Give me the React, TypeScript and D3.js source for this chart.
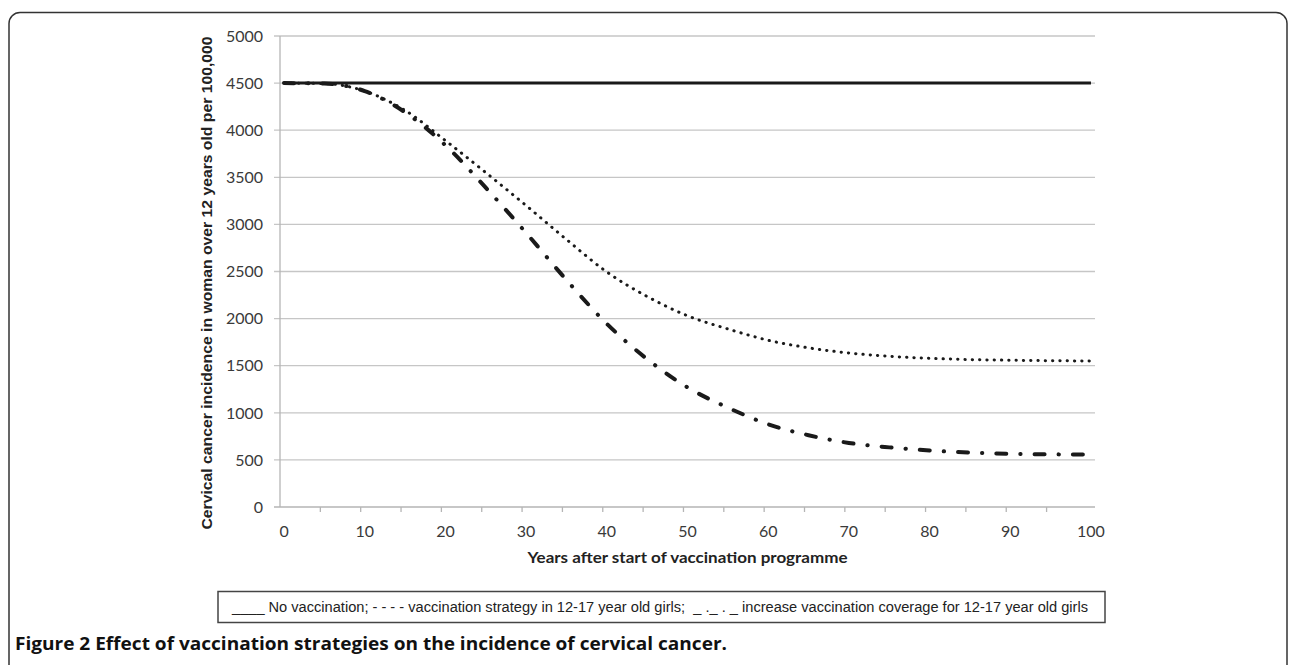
import React, { useEffect, useRef } from 'react';
import * as d3 from 'd3';

// Years after start of the programme (sampled every 5 years)
const years = [0, 5, 10, 15, 20, 25, 30, 35, 40, 45, 50, 55, 60, 65, 70, 75, 80, 85, 90, 95, 100];

// Incidence per 100,000 women over 12 years old
const noVaccination = [4500, 4500, 4500, 4500, 4500, 4500, 4500, 4500, 4500, 4500, 4500, 4500, 4500, 4500, 4500, 4500, 4500, 4500, 4500, 4500, 4500];
const strategy1217 = [4500, 4495, 4415, 4210, 3890, 3550, 3200, 2840, 2495, 2235, 2030, 1890, 1770, 1690, 1635, 1600, 1578, 1565, 1558, 1553, 1550];
const increasedCoverage = [4500, 4495, 4415, 4190, 3840, 3390, 2910, 2410, 1945, 1570, 1270, 1055, 878, 762, 680, 633, 600, 578, 565, 559, 558];

const yTicks = [0, 500, 1000, 1500, 2000, 2500, 3000, 3500, 4000, 4500, 5000];
const xLabels = [0, 10, 20, 30, 40, 50, 60, 70, 80, 90, 100];
const xMinorTicks = [4.5, 9.5, 14.5, 19.5, 24.5, 29.5, 34.5, 39.5, 44.5, 49.5, 54.5, 59.5, 64.5, 69.5, 74.5, 79.5, 84.5, 89.5, 94.5];

const yTitle = 'Cervical cancer incidence in woman over 12 years old per 100,000';
const xTitle = 'Years after start of vaccination programme';
const legendText = '____ No vaccination; - - - - vaccination strategy in 12-17 year old girls;  _ ._ . _ increase vaccination coverage for 12-17 year old girls';
const caption = 'Figure 2 Effect of vaccination strategies on the incidence of cervical cancer.';

const App: React.FC = () => {
  const ref = useRef<SVGSVGElement>(null);

  useEffect(() => {
    if (!ref.current) return;
    const svg = d3.select(ref.current);
    svg.selectAll('*').remove();

    const left = 280, right = 1095, top = 36, bottom = 507;
    const x = d3.scaleLinear().domain([-0.5, 100.5]).range([left, right]);
    const y = d3.scaleLinear().domain([0, 5000]).range([bottom, top]);

    const numFont = 'Lato, "Open Sans", sans-serif';

    // outer figure frame
    svg.append('rect')
      .attr('x', 9).attr('y', 12.5)
      .attr('width', 1278).attr('height', 700)
      .attr('rx', 11)
      .attr('fill', 'none')
      .attr('stroke', '#333')
      .attr('stroke-width', 1.5);

    // gridlines
    svg.append('g').selectAll('line')
      .data(yTicks.filter(d => d > 0))
      .enter().append('line')
      .attr('x1', left - 6).attr('x2', right)
      .attr('y1', d => y(d)).attr('y2', d => y(d))
      .attr('stroke', '#c6c6c6')
      .attr('stroke-width', 1.3);

    // axes
    svg.append('line')
      .attr('x1', left).attr('x2', left).attr('y1', top).attr('y2', bottom)
      .attr('stroke', '#b5b5b5').attr('stroke-width', 1.3);
    svg.append('line')
      .attr('x1', left - 6).attr('x2', right).attr('y1', bottom).attr('y2', bottom)
      .attr('stroke', '#b5b5b5').attr('stroke-width', 1.3);
    svg.append('g').selectAll('line')
      .data(xMinorTicks)
      .enter().append('line')
      .attr('x1', d => x(d)).attr('x2', d => x(d))
      .attr('y1', bottom).attr('y2', bottom + 5)
      .attr('stroke', '#b5b5b5').attr('stroke-width', 1.3);

    // tick labels
    svg.append('g').selectAll('text')
      .data(yTicks)
      .enter().append('text')
      .attr('x', 263).attr('y', d => y(d))
      .attr('dy', '0.36em')
      .attr('text-anchor', 'end')
      .attr('font-family', numFont)
      .attr('font-size', 16)
      .attr('fill', '#3a3a3a')
      .text(d => String(d));

    svg.append('g').selectAll('text')
      .data(xLabels)
      .enter().append('text')
      .attr('x', d => x(d)).attr('y', 531)
      .attr('dy', '0.36em')
      .attr('text-anchor', 'middle')
      .attr('font-family', numFont)
      .attr('font-size', 16)
      .attr('fill', '#3a3a3a')
      .text(d => String(d));

    // axis titles
    svg.append('text')
      .attr('transform', 'translate(207,283) rotate(-90)')
      .attr('text-anchor', 'middle')
      .attr('dy', '0.36em')
      .attr('font-family', '"Liberation Sans", Arial, sans-serif')
      .attr('font-weight', 'bold')
      .attr('font-size', 14)
      .attr('fill', '#222')
      .attr('textLength', 493)
      .attr('lengthAdjust', 'spacingAndGlyphs')
      .text(yTitle);

    svg.append('text')
      .attr('x', (left + right) / 2).attr('y', 558)
      .attr('dy', '0.36em')
      .attr('text-anchor', 'middle')
      .attr('font-family', numFont)
      .attr('font-weight', 'bold')
      .attr('font-size', 15)
      .attr('fill', '#222')
      .attr('textLength', 320)
      .attr('lengthAdjust', 'spacingAndGlyphs')
      .text(xTitle);

    // series
    const line = d3.line<number>()
      .x((_, i) => x(years[i]))
      .y(d => y(d))
      .curve(d3.curveMonotoneX);

    svg.append('path')
      .datum(noVaccination)
      .attr('fill', 'none')
      .attr('stroke', '#1a1a1a')
      .attr('stroke-width', 3)
      .attr('d', line);

    svg.append('path')
      .datum(strategy1217)
      .attr('fill', 'none')
      .attr('stroke', '#1a1a1a')
      .attr('stroke-width', 3)
      .attr('stroke-linecap', 'round')
      .attr('stroke-dasharray', '0.3 7')
      .attr('d', line);

    svg.append('path')
      .datum(increasedCoverage)
      .attr('fill', 'none')
      .attr('stroke', '#1a1a1a')
      .attr('stroke-width', 4)
      .attr('stroke-linecap', 'round')
      .attr('stroke-dasharray', '10 14 0.3 14')
      .attr('d', line);

    // legend box
    svg.append('rect')
      .attr('x', 218).attr('y', 591.5)
      .attr('width', 887).attr('height', 31)
      .attr('fill', 'white')
      .attr('stroke', '#444')
      .attr('stroke-width', 1.5);

    svg.append('text')
      .attr('x', 660).attr('y', 607)
      .attr('dy', '0.36em')
      .attr('text-anchor', 'middle')
      .attr('font-family', '"Liberation Sans", Arial, sans-serif')
      .attr('font-size', 14)
      .attr('fill', '#222')
      .attr('textLength', 856)
      .attr('lengthAdjust', 'spacingAndGlyphs')
      .style('white-space', 'pre')
      .text(legendText);

    // caption
    svg.append('text')
      .attr('x', 15).attr('y', 650)
      .attr('font-family', '"Open Sans", sans-serif')
      .attr('font-weight', 'bold')
      .attr('font-size', 17)
      .attr('fill', '#111')
      .attr('textLength', 712)
      .attr('lengthAdjust', 'spacingAndGlyphs')
      .text(caption);
  }, []);

  return (
    <svg
      ref={ref}
      width={1290}
      height={665}
      style={{ position: 'absolute', left: 0, top: 0, background: 'white' }}
    />
  );
};

export default App;
